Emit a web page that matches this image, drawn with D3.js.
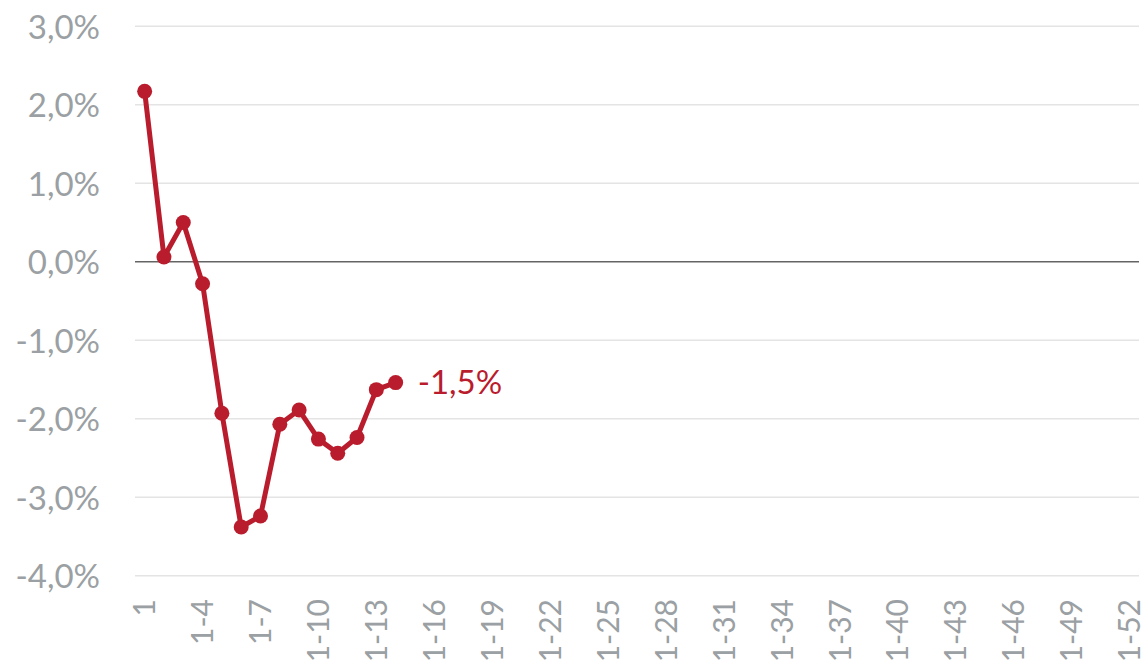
<!DOCTYPE html>
<html>
<head>
<meta charset="utf-8">
<script src="https://cdn.jsdelivr.net/npm/d3@7/dist/d3.min.js"></script>
<style>
  html, body { margin: 0; padding: 0; background: #fff; }
  svg { display: block; }
</style>
</head>
<body>
<svg id="chart" width="1147" height="667"></svg>
<script>
// Weekly categories "1", "1-2", ... "1-52"
const categories = d3.range(1, 53).map(i => i === 1 ? "1" : "1-" + i);
// Cumulative change (%) for the weeks available so far
const values = [2.17, 0.06, 0.50, -0.28, -1.93, -3.38, -3.24, -2.07, -1.89, -2.26, -2.44, -2.24, -1.63, -1.54];
const yTicks = [3, 2, 1, 0, -1, -2, -3, -4];
const xTickLabels = categories.filter((d, i) => i % 3 === 0);

const svg = d3.select("#chart");
const margin = { left: 135, right: 8 };
const W = 1147;

const x = d3.scaleBand().domain(categories).range([margin.left, W - margin.right]);
const y = d3.scaleLinear().domain([-4, 3]).range([575.7, 26.2]);

const fmt = v => d3.format(".1f")(v).replace(".", ",").replace("−", "-") + "%";
const red = "#b91c2c";
const grey = "#9aa0a3";
const font = "Lato, 'Open Sans', sans-serif";

// Horizontal gridlines
svg.append("g").selectAll("line").data(yTicks.filter(d => d !== 0)).join("line")
  .attr("x1", margin.left).attr("x2", W - margin.right)
  .attr("y1", d => y(d)).attr("y2", d => y(d))
  .attr("stroke", "#e4e4e4").attr("stroke-width", 1.5);

// Zero baseline
svg.append("line")
  .attr("x1", margin.left).attr("x2", W - margin.right)
  .attr("y1", y(0)).attr("y2", y(0))
  .attr("stroke", "#646464").attr("stroke-width", 1.5);

// Y axis labels
const yAxis = d3.axisLeft(y).tickValues(yTicks).tickFormat(fmt).tickSize(0).tickPadding(0);
const gy = svg.append("g").attr("transform", "translate(100,0)").call(yAxis);
gy.select(".domain").remove();
gy.selectAll("text")
  .attr("fill", grey).attr("font-family", font).attr("font-size", 33)
  .attr("dy", "0.36em");

// X axis labels (rotated)
const xAxis = d3.axisBottom(x).tickValues(xTickLabels).tickSize(0).tickPadding(0);
const gx = svg.append("g").attr("transform", "translate(0,599)").call(xAxis);
gx.select(".domain").remove();
gx.selectAll("text")
  .attr("fill", grey).attr("font-family", font).attr("font-size", 30)
  .attr("text-anchor", "end")
  .attr("transform", "rotate(-90)")
  .attr("x", 0).attr("y", 0).attr("dy", "0.36em");

// Series line
const cx = (d, i) => x(categories[i]) + x.bandwidth() / 2;
svg.append("path")
  .datum(values)
  .attr("fill", "none").attr("stroke", red).attr("stroke-width", 5)
  .attr("stroke-linejoin", "round")
  .attr("d", d3.line().x(cx).y(d => y(d)));

svg.append("g").selectAll("circle").data(values).join("circle")
  .attr("cx", cx).attr("cy", d => y(d)).attr("r", 7.5).attr("fill", red);

// Last value label
const last = values.length - 1;
svg.append("text")
  .attr("x", cx(values[last], last) + 22).attr("y", y(values[last]))
  .attr("dy", "0.36em")
  .attr("fill", red).attr("font-family", font).attr("font-size", 33)
  .text(fmt(values[last]));
</script>
</body>
</html>
